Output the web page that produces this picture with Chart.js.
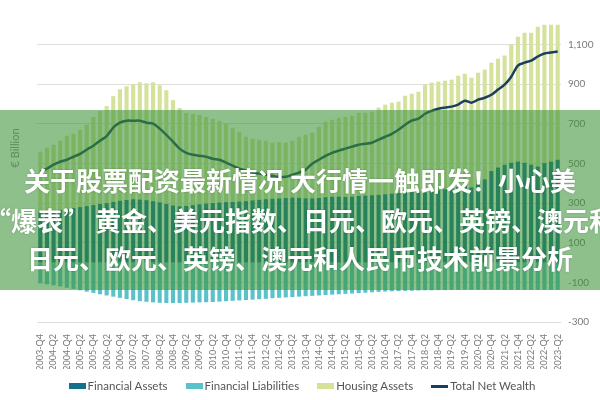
<!DOCTYPE html>
<html>
<head>
<meta charset="utf-8">
<script src="https://cdn.jsdelivr.net/npm/chart.js@4"></script>
<style>
  body { margin: 0; background: #fff; }
  #wrap { position: relative; width: 600px; height: 400px; overflow: hidden; }
  #banner {
    position: absolute; left: 0; top: 110px; width: 600px; height: 180px;
    background: rgba(55, 145, 51, 0.57);
  }
  .line {
    position: absolute; left: -50px; width: 700px; text-align: center;
    font-family: "Noto Sans CJK SC", sans-serif; font-weight: 700;
    font-size: 26px; line-height: 26px; color: #fff; white-space: nowrap;
    text-shadow: 0 0 2px rgba(0, 0, 0, 0.25);
  }
  #legenda {
    position: absolute; left: 2px; top: 379px; width: 600px; height: 14px;
    display: flex; justify-content: center; gap: 18px;
    font-family: Lato, sans-serif; font-size: 11.5px; line-height: 14px; color: #555;
  }
  #legenda span { display: flex; align-items: center; gap: 2px; white-space: nowrap; }
  #legenda i { display: inline-block; width: 17px; height: 6px; }
</style>
</head>
<body>
<div id="wrap">
  <canvas id="grafico" width="600" height="400"></canvas>
  <div id="legenda"></div>
  <div id="banner">
    <div class="line" style="top:57px">关于股票配资最新情况 大行情一触即发！小心美</div>
    <div class="line" style="top:97px">“爆表” 黄金、美元指数、日元、欧元、英镑、澳元和</div>
    <div class="line" style="top:135px">日元、欧元、英镑、澳元和人民币技术前景分析</div>
  </div>
</div>
<script>
// quarters 2003-Q4 .. 2023-Q2
let trimestres = [];
for (let ano = 2003; ano <= 2023; ano++) {
  for (let q = 1; q <= 4; q++) {
    if (ano === 2003 && q < 4) continue;
    if (ano === 2023 && q > 2) continue;
    trimestres.push(ano + "-Q" + q);
  }
}

const financialAssets = [
  255, 258, 262, 266, 270, 275, 280, 285, 290, 296, 300,
  306, 312, 316, 320, 318, 315, 310, 304, 296, 288,
  284, 286, 290, 294, 298, 300, 303, 305, 306, 308,
  310, 314, 317, 320, 322, 324, 326, 328, 327, 324,
  324, 326, 330, 332, 333, 331, 333, 336, 338, 340,
  342, 345, 348, 352, 355, 356, 360, 354, 360, 365,
  370, 375, 380, 388, 380, 395, 420,
  462, 480, 494, 504, 510, 504, 494, 485, 502, 510, 519
];

const financialLiabilities = [
  -105, -110, -115, -120, -127, -133, -140, -147, -153, -160, -166,
  -172, -178, -184, -190, -195, -198, -201, -203, -204, -204,
  -204, -203, -202, -201, -200, -199, -197, -195, -193, -191,
  -189, -187, -185, -183, -180, -178, -176, -174, -172, -170,
  -168, -166, -164, -162, -160, -158, -156, -154, -152, -150,
  -148, -146, -145, -144, -143, -142, -141, -140, -140, -139,
  -139, -138, -138, -137, -137, -137, -137,
  -137, -137, -138, -138, -138, -138, -138, -138, -138, -138, -138
];

const housingAssets = [
  305, 322, 333, 349, 370, 375, 390, 410, 445, 469, 490,
  534, 563, 574, 580, 592, 590, 600, 591, 574, 532,
  496, 469, 460, 451, 437, 425, 412, 395, 374, 352,
  325, 311, 303, 295, 283, 284, 279, 287, 308, 321,
  331, 360, 381, 389, 398, 405, 408, 420, 418, 422,
  440, 452, 459, 460, 487, 496, 502, 544, 548, 548,
  548, 548, 563, 565, 553, 563, 554,
  547, 549, 551, 596, 630, 656, 666, 705, 698, 690, 681
];

const totalNetWealth = [
  459, 474, 494, 509, 519, 534, 549, 570, 590, 615, 638,
  681, 706, 716, 716, 716, 706, 701, 676, 645, 610,
  575, 554, 544, 539, 534, 524, 519, 504, 489, 474,
  464, 454, 449, 443, 438, 433, 433, 443, 454, 469,
  499, 519, 539, 554, 565, 575, 585, 595, 600, 605,
  620, 635, 650, 670, 696, 716, 726, 751, 766, 776,
  782, 787, 797, 817, 807, 822, 832,
  847, 873, 898, 938, 994, 1009, 1019, 1040, 1055, 1060, 1065
];

const tituloEixo = {
  id: "tituloEixo",
  afterDraw(chart) {
    let ctx = chart.ctx;
    ctx.save();
    ctx.translate(15, 148);
    ctx.rotate(-Math.PI / 2);
    ctx.font = "11px Lato";
    ctx.fillStyle = "#8a8a8a";
    ctx.textAlign = "center";
    ctx.textBaseline = "middle";
    ctx.fillText("€ Billion", 0, 0);
    ctx.restore();
  },
};

let grafico = new Chart(document.getElementById("grafico"), {
  data: {
    labels: trimestres,
    datasets: [
      {
        type: "bar",
        label: "Financial Assets",
        data: financialAssets,
        backgroundColor: "#16708d",
        stack: "s",
        order: 1,
      },
      {
        type: "bar",
        label: "Financial Liabilities",
        data: financialLiabilities,
        backgroundColor: "#5cc2ca",
        stack: "s",
        order: 1,
      },
      {
        type: "bar",
        label: "Housing Assets",
        data: housingAssets,
        backgroundColor: "#d5e29b",
        stack: "s",
        order: 1,
      },
      {
        type: "line",
        label: "Total Net Wealth",
        data: totalNetWealth,
        borderColor: "#1c3f60",
        backgroundColor: "#1c3f60",
        borderWidth: 2.5,
        pointRadius: 0,
        tension: 0.3,
        order: 0,
      },
    ],
  },

  plugins: [tituloEixo],

  options: {
    responsive: false,
    animation: false,
    layout: {
      padding: { top: 5, left: 37, right: 0, bottom: 31 },
    },
    datasets: {
      bar: {
        categoryPercentage: 1,
        barPercentage: 0.62,
      },
    },
    plugins: {
      legend: { display: false },
      tooltip: { enabled: false },
    },
    scales: {
      x: {
        stacked: true,
        grid: { display: false },
        border: { display: false },
        ticks: {
          autoSkip: false,
          maxRotation: 90,
          minRotation: 90,
          padding: 4,
          color: "#7a7a7a",
          font: { family: "Lato", size: 9 },
          callback: function (v, i) {
            return i % 2 === 0 ? trimestres[i] : "";
          },
        },
        afterFit: function (scale) {
          scale.height = 47;
        },
      },
      y: {
        stacked: true,
        position: "right",
        min: -300,
        max: 1300,
        grid: { color: "#dedede", drawTicks: false },
        border: { display: false },
        ticks: {
          stepSize: 200,
          padding: 7,
          color: "#7a7a7a",
          font: { family: "Lato", size: 10 },
          callback: function (v) {
            return v.toLocaleString("en-US");
          },
        },
        afterBuildTicks: function (scale) {
          scale.ticks = scale.ticks.filter((t) => t.value <= 1100);
        },
        afterFit: function (scale) {
          scale.width = 39;
          scale.paddingTop = 0;
          scale.paddingBottom = 0;
        },
      },
    },
  },
});

// legenda montada a partir dos datasets do grafico
let legenda = document.getElementById("legenda");
grafico.data.datasets.forEach(function (ds) {
  let item = document.createElement("span");
  let cor = document.createElement("i");
  cor.style.background = ds.type === "line" ? ds.borderColor : ds.backgroundColor;
  if (ds.type === "line") cor.style.height = "3px";
  item.appendChild(cor);
  item.appendChild(document.createTextNode(ds.label));
  legenda.appendChild(item);
});
</script>
</body>
</html>
